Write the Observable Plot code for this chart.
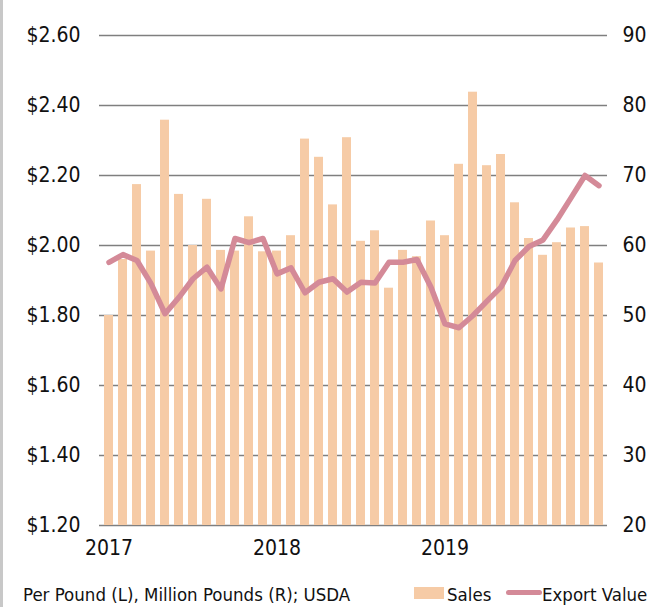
<!DOCTYPE html>
<html><head><meta charset="utf-8">
<script src="https://cdn.jsdelivr.net/npm/d3@7"></script>
<script src="https://cdn.jsdelivr.net/npm/@observablehq/plot@0.6"></script>
<style>
body{margin:0;background:#fff;}
#wrap{position:relative;width:652px;height:607px;overflow:hidden;font-family:"DejaVu Sans Condensed","DejaVu Sans",sans-serif;color:#111;}
#border{position:absolute;left:0;top:0;width:3px;height:607px;background:#c8c8c8;}
#chart{position:absolute;left:0;top:0;}
#caption{position:absolute;left:23px;top:584px;font-size:18.5px;white-space:nowrap;}
.leg{position:absolute;top:584px;font-size:18.5px;white-space:nowrap;}
.sw-bar{position:absolute;left:414px;top:587px;width:30px;height:12px;background:#f6cba6;}
.sw-line{position:absolute;left:506px;top:590px;width:36px;height:5px;border-radius:3px;background:#d48a98;}
</style></head>
<body><div id="wrap"><div id="border"></div><div id="chart"></div>
<div id="caption">Per Pound (L), Million Pounds (R); USDA</div>
<div class="sw-bar"></div><div class="leg" style="left:447px">Sales</div>
<div class="sw-line"></div><div class="leg" style="left:542px">Export Value</div>
</div>
<script>
const months = [
 "2017-01","2017-02","2017-03","2017-04","2017-05","2017-06","2017-07","2017-08","2017-09","2017-10","2017-11","2017-12",
 "2018-01","2018-02","2018-03","2018-04","2018-05","2018-06","2018-07","2018-08","2018-09","2018-10","2018-11","2018-12",
 "2019-01","2019-02","2019-03","2019-04","2019-05","2019-06","2019-07","2019-08","2019-09","2019-10","2019-11","2019-12"];
// Sales, million pounds (right axis)
const sales = [50.0,58.0,68.7,59.2,77.9,67.3,60.0,66.6,59.3,59.2,64.1,59.1,
               59.2,61.4,75.2,72.6,65.8,75.4,60.6,62.1,53.9,59.3,58.4,63.5,
               61.4,71.6,81.9,71.4,73.0,66.1,61.0,58.6,60.4,62.5,62.7,57.5];
// Export value, $ per pound (left axis)
const exportValue = [1.952,1.974,1.957,1.891,1.805,1.852,1.905,1.938,1.876,2.020,2.008,2.020,
                     1.919,1.936,1.865,1.895,1.905,1.867,1.895,1.893,1.952,1.952,1.960,1.881,
                     1.776,1.765,1.800,1.841,1.881,1.957,1.997,2.016,2.073,2.136,2.200,2.171];
const leftTicks = [1.2,1.4,1.6,1.8,2.0,2.2,2.4,2.6];
const rightTicks = [20,30,40,50,60,70,80,90];
const yearLabels = {"2017-01":"2017","2018-01":"2018","2019-01":"2019"};

// map right-axis values onto left-axis scale
const r2l = v => 1.2 + (v - 20) * 0.02;
const l2r = v => Math.round(20 + (v - 1.2) / 0.02);

const data = months.map((m, i) => ({m, sales: sales[i], value: exportValue[i]}));

const chart = Plot.plot({
  width: 652, height: 565,
  marginLeft: 99, marginRight: 45, marginTop: 35, marginBottom: 40,
  style: {fontFamily: '"DejaVu Sans Condensed","DejaVu Sans",sans-serif', fontSize: "21px", color: "#111", background: "transparent"},
  x: {type: "band", domain: months, paddingInner: 0.36, paddingOuter: 0.18},
  y: {domain: [1.2, 2.6]},
  marks: [
    Plot.ruleY(leftTicks, {stroke: "#7f7f7f", strokeWidth: 1.6}),
    Plot.barY(data, {x: "m", y1: () => 1.2, y2: d => r2l(d.sales), fill: "#f6cba6"}),
    Plot.line(data, {x: "m", y: "value", stroke: "#d48a98", strokeWidth: 5.5, strokeLinejoin: "round", strokeLinecap: "round"}),
    Plot.axisY(leftTicks, {anchor: "left", tickSize: 0, tickPadding: 19, tickFormat: d => "$" + d.toFixed(2), label: null}),
    Plot.axisY(rightTicks.map(r2l), {anchor: "right", tickSize: 0, tickPadding: 15, tickFormat: d => String(l2r(d)), label: null}),
    Plot.axisX(Object.keys(yearLabels), {tickSize: 0, tickPadding: 15, tickFormat: d => yearLabels[d], label: null})
  ]
});
document.getElementById("chart").appendChild(chart);
</script>
</body></html>
